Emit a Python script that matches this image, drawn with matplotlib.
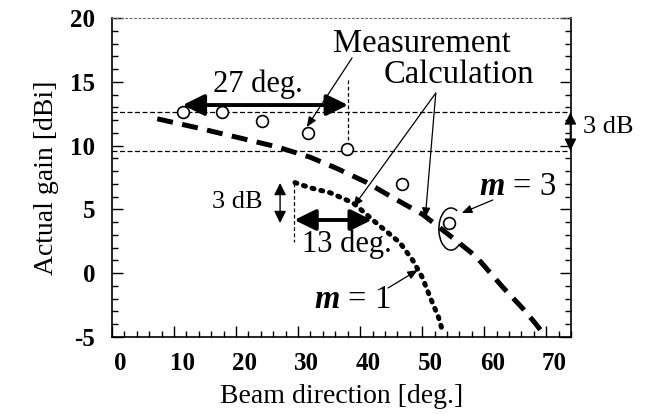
import matplotlib
matplotlib.use("Agg")
from matplotlib import pyplot as plt
from matplotlib.patches import Arc
from matplotlib.transforms import ScaledTranslation
from matplotlib.ticker import MultipleLocator

plt.rcParams['font.family'] = ['Liberation Serif', 'DejaVu Serif']
plt.rcParams['mathtext.fontset'] = 'custom'
plt.rcParams['mathtext.rm'] = 'Liberation Serif'
plt.rcParams['mathtext.it'] = 'Liberation Serif:italic:bold'
plt.rcParams['axes.unicode_minus'] = False

# measured gain (open circles)
meas_x = [11.4, 17.7, 24.2, 31.6, 37.9, 46.8, 54.3]
meas_y = [12.6, 12.6, 11.9, 11.0, 9.7, 7.0, 3.9]

# calculation, m = 3 (dashed)
m3_x = [7.3, 13.7, 20.6, 26.6, 31.9, 36.3, 41.1, 45.0, 50.1, 55.9, 58.7, 63.0, 66.1, 68.2, 69.8]
m3_y = [12.1, 11.4, 10.6, 9.9, 9.1, 8.2, 7.1, 6.0, 4.6, 2.4, 1.3, -1.1, -2.7, -3.9, -4.9]

# calculation, m = 1 (dotted)
m1_x = [29.5, 31.9, 35.2, 38.9, 42.7, 46.4, 48.5, 50.0, 51.3, 52.6, 53.4]
m1_y = [7.1, 6.7, 6.3, 5.5, 3.9, 2.4, 1.0, -0.3, -1.9, -3.4, -4.7]

beam_max = 12.6
beam_3db = 9.6

fig = plt.figure(figsize=(6.48, 4.15), dpi=100)
ax = fig.add_axes([0.1728, 0.188, 0.7084, 0.7686])

ax.plot(m3_x, m3_y, color='black', lw=3.6, dashes=(3.2, 1.9))
ax.plot(m1_x, m1_y, color='black', lw=3.6, dashes=(0.4, 1.4), dash_capstyle='round')
ax.plot(meas_x, meas_y, 'o', ms=8.5, mfc='white', mec='black', mew=1.2, zorder=4)

# 3 dB reference lines
for yv in (beam_max, beam_3db):
    ax.axhline(yv, color='black', lw=0.9, dashes=(4, 2))
ax.plot([38.05, 38.05], [15.15, beam_3db], color='black', lw=0.9, dashes=(3, 2))
ax.plot([29.3, 29.3], [7.07, 2.45], color='black', lw=0.9, dashes=(3, 2))

big = dict(arrowstyle='<|-|>,head_length=0.65,head_width=0.32', color='black',
           lw=2.8, mutation_scale=20, shrinkA=0, shrinkB=0)
ax.annotate('', xy=(11.4, 13.18), xytext=(38.05, 13.18), arrowprops=big)
ax.annotate('', xy=(29.4, 4.17), xytext=(41.9, 4.17), arrowprops=big)

small = dict(arrowstyle='<|-|>,head_length=0.6,head_width=0.3', color='black',
             lw=1.0, mutation_scale=12, shrinkA=0, shrinkB=0)
ax.annotate('', xy=(73.9, beam_max), xytext=(73.9, beam_3db), arrowprops=small,
            annotation_clip=False)
ax.annotate('', xy=(27.1, 7.07), xytext=(27.1, 3.93), arrowprops=small)

thin = dict(arrowstyle='-|>,head_length=0.6,head_width=0.25', color='black',
            lw=0.9, mutation_scale=10, shrinkA=0, shrinkB=0)
ax.annotate('', xy=(31.4, 11.46), xytext=(38.7, 16.87), arrowprops=thin)
ax.annotate('', xy=(38.9, 5.19), xytext=(52.2, 14.12), arrowprops=thin)
ax.annotate('', xy=(50.5, 4.33), xytext=(52.2, 14.12), arrowprops=thin)
ax.annotate('', xy=(56.4, 4.72), xytext=(61.4, 5.74), arrowprops=thin)
ax.annotate('', xy=(49.3, 0.25), xytext=(44.5, -1.16), arrowprops=thin)

ax.add_patch(Arc((54.65, 3.46), 3.9, 3.3, theta1=55, theta2=320, color='black', lw=1.1))

ax.text(23.5, 14.2, '27 deg.', fontsize=22, ha='center', va='baseline')
ax.text(30.6, 1.66, '13 deg.', fontsize=22, ha='left', va='baseline')
ax.text(50.0, 17.3, 'Measurement', fontsize=23.5, ha='center', va='baseline')
ax.text(55.9, 14.9, 'Calculation', fontsize=23.5, ha='center', va='baseline')
ax.text(24.3, 5.1, '3 dB', fontsize=19, ha='right', va='baseline')
ax.text(76.0, 11.0, '3 dB', fontsize=19, ha='left', va='baseline', clip_on=False)
ax.text(65.3, 6.13, r'$m$ = 3', fontsize=23.5, ha='center', va='baseline')
ax.text(38.7, -2.73, r'$m$ = 1', fontsize=23.5, ha='center', va='baseline')

ax.set_xlim(0, 74)
ax.set_ylim(-5, 20)
ax.xaxis.set_major_locator(MultipleLocator(10))
ax.xaxis.set_minor_locator(MultipleLocator(2))
ax.yaxis.set_major_locator(MultipleLocator(5))
ax.yaxis.set_minor_locator(MultipleLocator(1))
ax.tick_params(which='both', direction='in', right=True, top=False, width=1.0)
ax.tick_params(which='major', length=8, labelsize=18)
ax.tick_params(which='minor', length=4)
ax.tick_params(axis='x', pad=11)
ax.tick_params(axis='y', pad=12)
for lab in ax.get_xticklabels() + ax.get_yticklabels():
    lab.set_fontweight('bold')
for lab in ax.get_xticklabels():
    lab.set_transform(lab.get_transform() + ScaledTranslation(0.08, 0, fig.dpi_scale_trans))

for side in ('left', 'bottom', 'right'):
    ax.spines[side].set_linewidth(1.2)
ax.spines['top'].set_linewidth(0.8)
ax.spines['top'].set_color('0.4')
ax.spines['top'].set_linestyle((0, (1.5, 2.5)))

ax.set_xlabel('Beam direction [deg.]', fontsize=20, labelpad=6)
ax.set_ylabel('Actual gain [dBi]', fontsize=20, labelpad=8)

fig.savefig('out.png', dpi=100)
